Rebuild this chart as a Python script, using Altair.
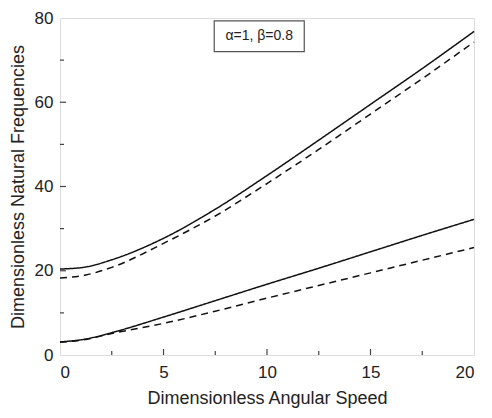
import altair as alt
import pandas as pd

# Data
speed = [0, 1.25, 2.5, 5, 7.5, 10, 12.5, 15, 17.5, 20]
upper_solid = [20.4, 20.9, 22.6, 27.7, 34.6, 42.6, 51.0, 59.5, 68.0, 76.8]
upper_dashed = [18.3, 19.0, 20.8, 26.5, 33.0, 40.7, 48.8, 57.2, 65.6, 74.3]
lower_solid = [3.1, 3.8, 5.3, 9.0, 12.9, 16.8, 20.6, 24.5, 28.4, 32.2]
lower_dashed = [3.0, 3.7, 5.1, 7.5, 10.4, 13.5, 16.5, 19.5, 22.5, 25.5]

x_ticks = [0, 5, 10, 15, 20]
y_ticks = [0, 20, 40, 60, 80]
x_minor = [2.5, 7.5, 12.5, 17.5]
y_minor = [10, 30, 50, 70]
x_major_inner = [5, 10, 15]
y_major_inner = [20, 40, 60]

label_text = "\u03b1=1, \u03b2=0.8"
box_x = [7.45, 11.8]
box_y = [72.0, 79.3]

rows = []
for name, style, vals in [
    ("upper_solid", "solid", upper_solid),
    ("upper_dashed", "dashed", upper_dashed),
    ("lower_solid", "solid", lower_solid),
    ("lower_dashed", "dashed", lower_dashed),
]:
    for xv, yv in zip(speed, vals):
        rows.append({"x": xv, "y": yv, "curve": name, "style": style})
df = pd.DataFrame(rows)

W, H = 414, 337
xs = alt.Scale(domain=[0, 20], nice=False, zero=False)
ys = alt.Scale(domain=[0, 80], nice=False, zero=False)
FONT = "Liberation Sans"

x_axis = alt.Axis(
    title="Dimensionless Angular Speed", values=x_ticks, ticks=False, tickSize=0,
    domain=False, grid=False, labelPadding=9, labelFontSize=17, titleFontSize=18,
    titlePadding=9, labelColor="#222", titleColor="#222", titleFontWeight="normal",
    labelFont=FONT, titleFont=FONT)
y_axis = alt.Axis(
    title="Dimensionless Natural Frequencies", values=y_ticks, ticks=False, tickSize=0,
    domain=False, grid=False, labelPadding=7, labelFontSize=17, titleFontSize=18,
    titlePadding=7, labelColor="#222", titleColor="#222", titleFontWeight="normal",
    labelFont=FONT, titleFont=FONT)

lines = alt.Chart(df).mark_line(color="#111", strokeWidth=1.5, interpolate="monotone").encode(
    x=alt.X("x:Q", scale=xs, axis=x_axis),
    y=alt.Y("y:Q", scale=ys, axis=y_axis),
    detail="curve:N",
    strokeDash=alt.StrokeDash("style:N", scale=alt.Scale(domain=["solid", "dashed"], range=[[1, 0], [7, 5]]), legend=None),
)

def xtick_layer(vals, length):
    return alt.Chart(pd.DataFrame({"v": vals})).mark_rule(color="#444", strokeWidth=1.2).encode(
        x=alt.X("v:Q", scale=xs, axis=x_axis), y=alt.value(H), y2=alt.value(H - length))

def ytick_layer(vals, length):
    return alt.Chart(pd.DataFrame({"v": vals})).mark_rule(color="#444", strokeWidth=1.2).encode(
        y=alt.Y("v:Q", scale=ys, axis=y_axis), x=alt.value(0), x2=alt.value(length))

box_df = pd.DataFrame({"x1": [box_x[0]], "x2": [box_x[1]], "y1": [box_y[0]], "y2": [box_y[1]],
                       "xm": [(box_x[0] + box_x[1]) / 2], "ym": [(box_y[0] + box_y[1]) / 2], "t": [label_text]})
box = alt.Chart(box_df).mark_rect(fill="white", stroke="#555", strokeWidth=1.2).encode(
    x=alt.X("x1:Q", scale=xs, axis=x_axis), x2="x2:Q",
    y=alt.Y("y1:Q", scale=ys, axis=y_axis), y2="y2:Q")
txt = alt.Chart(box_df).mark_text(fontSize=14, font=FONT, color="#222", align="center", baseline="middle").encode(
    x=alt.X("xm:Q", scale=xs, axis=x_axis), y=alt.Y("ym:Q", scale=ys, axis=y_axis), text="t:N")

chart = alt.layer(
    lines,
    xtick_layer(x_major_inner, 6), xtick_layer(x_minor, 4),
    ytick_layer(y_major_inner, 6), ytick_layer(y_minor, 4),
    box, txt,
).properties(
    width=W, height=H,
    autosize=alt.AutoSizeParams(type="none"),
    padding={"left": 52, "top": 10, "right": 10, "bottom": 53},
).configure_view(stroke="#333", strokeWidth=1.5).configure(background="white")

chart.save("out.html", embed_options={"renderer": "svg", "actions": False})
